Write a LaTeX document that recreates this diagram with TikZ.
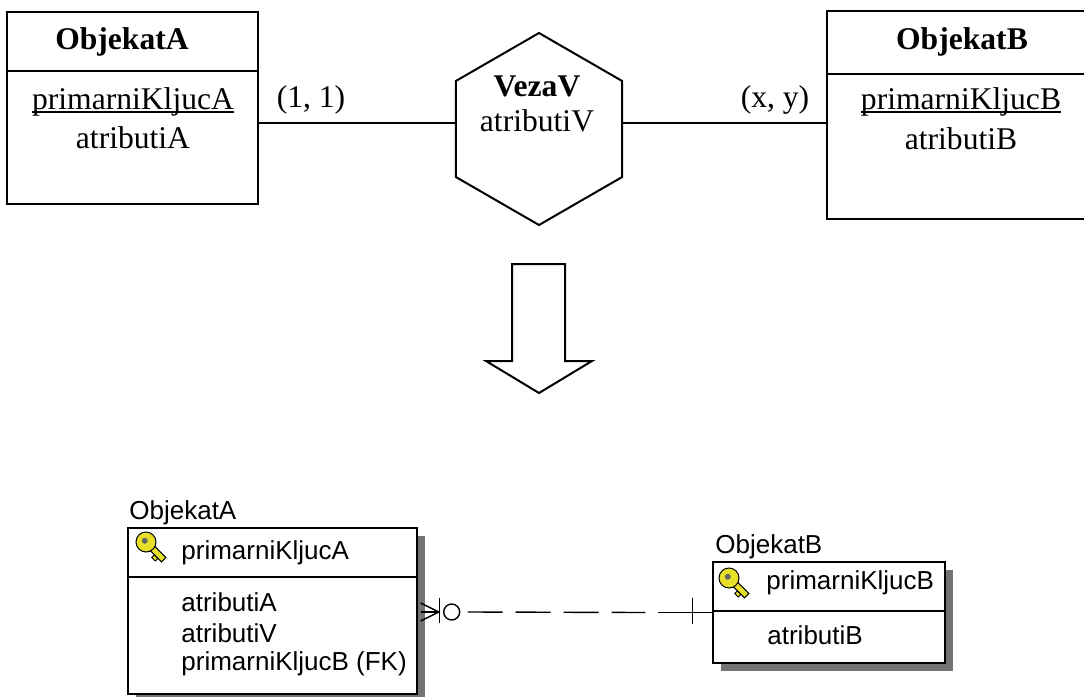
\documentclass[tikz,border=0pt]{standalone}
\usepackage{fontspec}
\setmainfont{Liberation Serif}
\newfontfamily\erfont{Liberation Sans}
\usetikzlibrary{shapes.geometric,positioning,calc,shadows}
\definecolor{keyyellow}{RGB}{232,224,40}
\tikzset{
  entity/.style  = {shape=rectangle, draw, line width=1pt, inner sep=0pt},
  veza/.style    = {regular polygon, regular polygon sides=6,
                    shape border rotate=30, draw, line width=1pt,
                    minimum size=96pt, inner sep=0pt},
  etitle/.style  = {font=\fontsize{15.8}{18}\selectfont\bfseries},
  etext/.style   = {font=\fontsize{15.8}{18}\selectfont},
  erbox/.style   = {shape=rectangle, draw, line width=0.7pt, fill=white,
                    inner sep=0pt,
                    drop shadow={shadow xshift=4pt, shadow yshift=-4pt,
                                 fill=black!55, opacity=1}},
  ttext/.style   = {font=\erfont\fontsize{13}{15}\selectfont,
                    anchor=west, inner sep=0pt},
  keyfill/.style = {fill=keyyellow, draw=black, line width=0.5pt},
  relline/.style = {line width=0.7pt}
}
\newcommand{\podvuci}[1]{%
  \setbox0\hbox{#1}\rlap{\rule[-1.6pt]{\wd0}{0.7pt}}\box0}
\newcommand{\kljuc}[1]{%
  \begin{scope}[shift={(#1)}, scale=1.25]
    \filldraw[keyfill] (6.7,10.3) -- (4.6,12.4) -- (7.4,15.2) -- (9.5,13.1) -- cycle;
    \filldraw[keyfill] (5.3,1.8) -- (15.9,12.4) -- (12.4,15.9) -- (1.8,5.3) -- cycle;
    \filldraw[keyfill] (0,0) circle (4pt);
    \fill[black!60] (-1,-1) circle (1.2pt);
  \end{scope}}

\begin{document}
\begin{tikzpicture}[x=0.5pt, y=-0.5pt]
  \clip (0,0) rectangle (1084,697);

  % conceptual model
  \node [entity, minimum width=125.5pt, minimum height=96pt] (boxA) at (132.5,108) {};
  \draw [line width=1pt] (boxA.west |- 0,71) -- (boxA.east |- 0,71);
  \node [etitle] (titA) at (122,42) {ObjekatA};
  \node [etext] (pkA) at (133,102) {\podvuci{primarniKljucA}};
  \node [etext] (atA) at (133,138) {atributiA};

  \node [entity, minimum width=134pt, minimum height=104pt] (boxB) at (961,115) {};
  \draw [line width=1pt] (boxB.west |- 0,74) -- (boxB.east |- 0,74);
  \node [etitle] (titB) at (962,42) {ObjekatB};
  \node [etext] (pkB) at (961,102) {\podvuci{primarniKljucB}};
  \node [etext] (atB) at (961,139) {atributiB};

  \node [veza] (veza) at (539,129) {};
  \node [etitle] (titV) at (537,86) {VezaV};
  \node [etext] (atV) at (537,121) {atributiV};

  \coordinate (vy) at (0,123);
  \draw [line width=1pt] (boxA.east |- vy) -- (veza.west |- vy);
  \draw [line width=1pt] (veza.east |- vy) -- (boxB.west |- vy);
  \node [etext] (kA) at (311,100) {(1, 1)};
  \node [etext] (kB) at (775,100) {(x, y)};

  \draw [line width=1pt, line join=miter] (512,264) -- (565,264) -- (565,361) -- (592,361)
    -- (539,393) -- (486,361) -- (512,361) -- cycle;

  % relational model
  \node [erbox, minimum width=144.5pt, minimum height=83pt] (tabA) at (272.5,611) {};
  \draw [line width=0.7pt] (tabA.west |- 0,577) -- (tabA.east |- 0,577);
  \node [ttext] (nameA) at (129,513) {ObjekatA};
  \kljuc{146,542}
  \node [ttext] (kljA) at (181,553) {primarniKljucA};
  \foreach \t [count=\i] in {atributiA, atributiV, {primarniKljucB (FK)}}
    \node [ttext] (atrA\i) at (181,571+31*\i) {\t};

  \node [erbox, minimum width=116pt, minimum height=50.5pt] (tabB) at (829,612.5) {};
  \draw [line width=0.7pt] (tabB.west |- 0,611) -- (tabB.east |- 0,611);
  \node [ttext] (nameB) at (715,547) {ObjekatB};
  \kljuc{729,578}
  \node [ttext] (kljB) at (766,583) {primarniKljucB};
  \node [ttext] (atrB) at (767,635) {atributiB};

  % zero or many / one
  \draw [relline] ($(tabA.east)+(3,-8)$) -- ($(tabA.east)+(21,1)$) -- ($(tabA.east)+(3,10)$);
  \draw [relline] ($(tabA.east)+(3,1)$) -- +(18,0);
  \draw [relline] ($(tabA.east)+(22,-13)$) -- +(0,25);
  \draw [relline] ($(tabA.east)+(34,1)$) circle (4pt);
  \draw [relline, dash pattern=on 17.5pt off 6.5pt] ($(tabA.east)+(50,1)$) -- ($(tabB.west)+(-67,0)$);
  \draw [relline] ($(tabB.west)+(-54,0)$) -- (tabB.west);
  \draw [relline] ($(tabB.west)+(-20,-15)$) -- +(0,26);
\end{tikzpicture}
\end{document}
